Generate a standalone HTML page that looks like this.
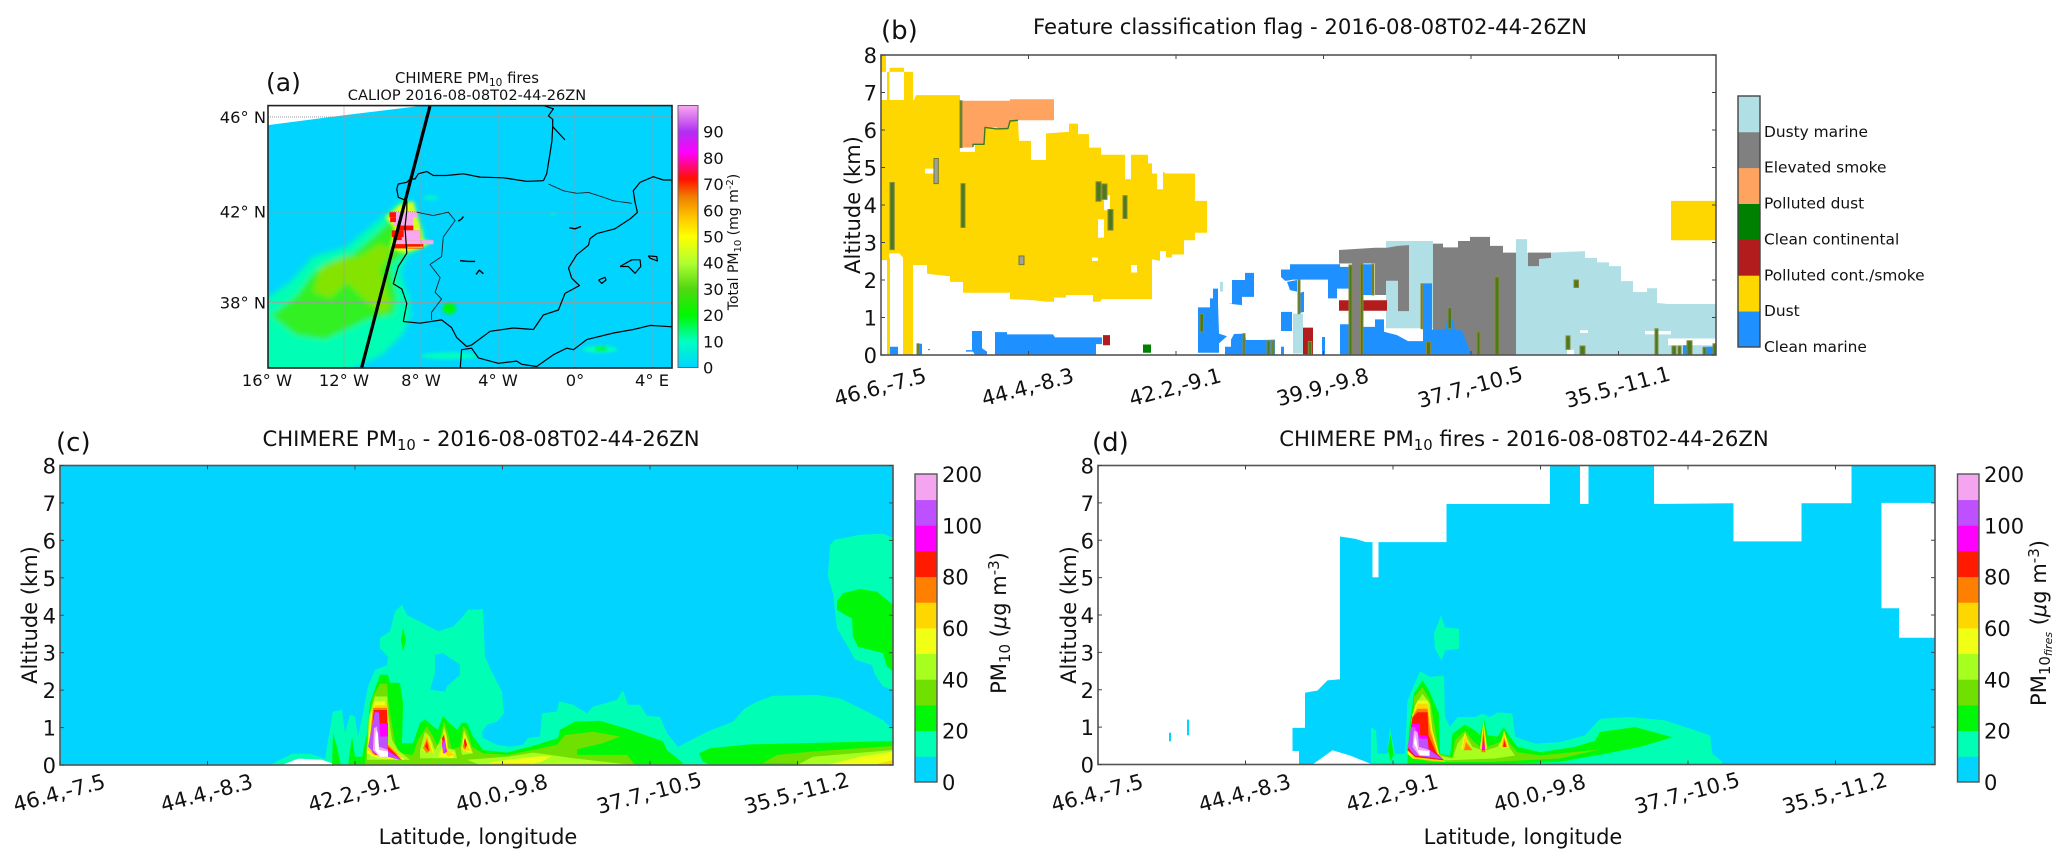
<!DOCTYPE html>
<html lang="en">
<head>
<meta charset="utf-8">
<title>CHIMERE PM10 and CALIOP comparison, 2016-08-08</title>
<style>
html,body{margin:0;padding:0;background:#fff}
svg{display:block}
text{font-family:"DejaVu Sans","Liberation Sans",sans-serif;fill:#111}
</style>
</head>
<body>
<svg id="fig" xmlns="http://www.w3.org/2000/svg" width="2067" height="865" viewBox="0 0 2067 865">
  <defs>
    <clipPath id="clip-map"><rect x="268" y="105.6" width="404" height="262.4"/></clipPath>
    <filter id="soft" x="-20%" y="-20%" width="140%" height="140%"><feGaussianBlur stdDeviation="3"/></filter>
    <filter id="soft2" x="-50%" y="-50%" width="200%" height="200%"><feGaussianBlur stdDeviation="1.6"/></filter>
    <linearGradient id="map-cbar-gradient" x1="0" y1="1" x2="0" y2="0"></linearGradient>
  </defs>
  <g id="panel-a"></g>
  <g id="panel-b"></g>
  <g id="panel-c"></g>
  <g id="panel-d"></g>

  <text x="266" y="91" font-size="25">(a)</text>
  <text x="881" y="39" font-size="26">(b)</text>
  <text x="56" y="451" font-size="26">(c)</text>
  <text x="1092" y="451" font-size="26">(d)</text>

  <text x="467" y="83" font-size="14.8" text-anchor="middle">CHIMERE PM<tspan font-size="10.5" dy="3">10</tspan><tspan dy="-3"> fires</tspan></text>
  <text x="467" y="100" font-size="14.6" text-anchor="middle">CALIOP 2016-08-08T02-44-26ZN</text>
  <text x="1310" y="34" font-size="21.2" text-anchor="middle">Feature classification flag - 2016-08-08T02-44-26ZN</text>
  <text x="481" y="446" font-size="21.2" text-anchor="middle">CHIMERE PM<tspan font-size="14.8" dy="4">10</tspan><tspan dy="-4"> - 2016-08-08T02-44-26ZN</tspan></text>
  <text x="1524" y="446" font-size="21.2" text-anchor="middle">CHIMERE PM<tspan font-size="14.8" dy="4">10</tspan><tspan dy="-4"> fires - 2016-08-08T02-44-26ZN</tspan></text>

  <text transform="translate(860 205) rotate(-90)" font-size="21" text-anchor="middle">Altitude (km)</text>
  <text transform="translate(37 615) rotate(-90)" font-size="21" text-anchor="middle">Altitude (km)</text>
  <text transform="translate(1076 615) rotate(-90)" font-size="21" text-anchor="middle">Altitude (km)</text>
  <text x="478" y="844" font-size="21" text-anchor="middle">Latitude, longitude</text>
  <text x="1523" y="844" font-size="21" text-anchor="middle">Latitude, longitude</text>

  <text transform="translate(738 242) rotate(-90)" font-size="14" text-anchor="middle">Total PM<tspan font-size="10" dy="3">10</tspan><tspan dy="-3"> (mg m</tspan><tspan font-size="10" dy="-5">-2</tspan><tspan dy="5">)</tspan></text>
  <text transform="translate(1006 623) rotate(-90)" font-size="21" text-anchor="middle">PM<tspan font-size="15" dy="4">10</tspan><tspan dy="-4">  (</tspan><tspan font-style="italic">μ</tspan><tspan>g m</tspan><tspan font-size="15" dy="-7">-3</tspan><tspan dy="7">)</tspan></text>
  <text transform="translate(2046 623) rotate(-90)" font-size="21" text-anchor="middle">PM<tspan font-size="15" dy="4">10</tspan><tspan font-size="11" font-style="italic" dy="2">fires</tspan><tspan dy="-6">  (</tspan><tspan font-style="italic">μ</tspan><tspan>g m</tspan><tspan font-size="15" dy="-7">-3</tspan><tspan dy="7">)</tspan></text>
</svg>

<script>
/* ---------- shared chart values ---------- */
const altitudeTicks = [0,1,2,3,4,5,6,7,8];
const trackLabelsB = ['46.6,-7.5','44.4,-8.3','42.2,-9.1','39.9,-9.8','37.7,-10.5','35.5,-11.1'];
const trackLabelsCD = ['46.4,-7.5','44.4,-8.3','42.2,-9.1','40.0,-9.8','37.7,-10.5','35.5,-11.2'];
const trackTickStep = 147.5;

/* ---------- panel (a): map, lon/lat degrees ---------- */
const mapLonTicks = [-16,-12,-8,-4,0,4];
const mapLatTicks = [38,42,46];
const mapColorbarTicks = [0,10,20,30,40,50,60,70,80,90];
const mapColorStops = [[0,'#00d4ff'],[10,'#00ffc0'],[20,'#00f800'],[30,'#50d810'],[40,'#b0ff30'],[50,'#ffff00'],[57,'#ffc800'],[65,'#f08000'],[72,'#ff1000'],[82,'#ff00ff'],[90,'#b030f0'],[100,'#f8a8f0']];
const domainGap = [[-16,46.6],[-16,45.66],[-12,46.07],[-8,46.46],[-8,46.6]];
const northCoast = [[-9.26,42.98],[-9.18,43.19],[-8.74,43.26],[-8.57,43.40],[-8.31,43.40],[-8.14,43.62],[-7.70,43.72],[-7.36,43.55],[-6.67,43.55],[-5.80,43.62],[-4.93,43.48],[-3.72,43.45],[-2.51,43.30],[-1.64,43.33]];
const franceCoast = [[-1.64,43.33],[-1.47,43.62],[-1.30,44.48],[-1.2,45.0],[-1.16,45.6],[-1.16,45.9],[-1.38,46.05],[-1.12,46.34],[-1.73,46.5]];
const gironde = [[-1.16,45.6],[-0.52,45.05]];
const franceMed = [[3.12,42.40],[3.03,42.9],[3.38,43.26],[4.07,43.5],[4.59,43.36],[5.1,43.36]];
const eastCoast = [[3.12,42.4],[3.24,41.97],[2.86,41.69],[2.08,41.26],[1.13,41.05],[0.78,40.83],[0.70,40.54],[0.09,40.12],[-0.34,39.54],[-0.17,39.08],[0.23,38.75],[-0.52,38.4],[-0.86,37.65],[-1.64,37.43],[-2.16,36.76],[-3.2,36.83],[-4.41,36.68],[-5.37,36.05],[-5.63,35.98],[-6.15,36.4],[-6.41,36.85],[-6.93,37.2],[-8.05,37.05],[-8.92,37.13]];
const westCoast = [[-8.92,37.13],[-8.74,37.95],[-9.0,38.6],[-9.44,38.83],[-9.18,39.6],[-8.74,40.19],[-8.83,41.33],[-8.74,42.05],[-8.74,42.47],[-9.18,42.62],[-9.26,42.98]];
const africaCoast = [[-5.97,34.9],[-5.89,35.83],[-5.37,35.9],[-5.02,35.45],[-3.98,35.2],[-3.03,35.3],[-2.77,35.15],[-1.99,35.05],[-1.12,35.6],[-0.43,35.9],[-0.08,35.83],[0.61,36.3],[2.0,36.6],[3.03,36.76],[3.9,36.95],[5.1,36.88]];
const mallorca = [[2.34,39.6],[2.95,39.9],[3.38,39.9],[3.42,39.6],[3.12,39.3],[2.77,39.6],[2.34,39.6]];
const menorca = [[3.81,40.07],[4.25,40.04],[4.28,39.85],[3.9,39.97],[3.81,40.07]];
const ibiza = [[1.22,39.0],[1.56,39.12],[1.61,39.0],[1.39,38.85],[1.22,39.0]];
const reservoirs = [[[-5.97,39.86],[-5.54,39.83],[-5.19,39.83]],[[-5.14,39.25],[-4.97,39.44],[-4.76,39.28]],[[-6.06,41.59],[-5.89,41.69],[-5.8,41.79]],[[-0.29,41.3],[0,41.26],[0.31,41.36]]];
const borderPyrenees = [[-1.38,43.19],[-0.60,42.9],[0.09,42.79],[0.70,42.83],[1.48,42.62],[2.0,42.47],[2.95,42.36]];
const borderPortugal = [[-8.22,41.98],[-7.36,41.83],[-6.58,41.98],[-6.23,41.62],[-6.84,40.9],[-6.93,40.04],[-7.53,39.69],[-7.01,39.11],[-7.27,38.45],[-6.93,38.15],[-7.45,37.55],[-7.45,37.2]];
const caliopTrack = [[-7.53,46.46],[-11.08,35.0]];
const plume10 = [[-16.5,37.9],[-14.8,38.9],[-13.6,40.04],[-11.86,40.47],[-10.65,41.33],[-9.6,42.05],[-8.9,42.6],[-8.4,42.33],[-7.96,41.33],[-7.7,40.6],[-8.74,40.04],[-9.09,39.33],[-8.57,38.04],[-8.57,37.3],[-9,36.5],[-10,35.6],[-12,34.8],[-16.5,34.8]];
const plume20 = [[-15.8,37.4],[-14.46,38.3],[-13.6,39.33],[-12.9,39.76],[-11.5,40.19],[-10.3,41.05],[-9.43,41.76],[-8.74,42.33],[-8.4,41.6],[-8.05,40.47],[-8.9,40.19],[-9.6,39.62],[-9.26,38.2],[-9.43,37.47],[-10.8,37.2],[-12,36.7],[-13,36.3],[-14.5,36.5]];
const plume30 = [[-13.6,38.47],[-13.25,39.47],[-12.2,39.9],[-11.17,40.04],[-10.13,40.6],[-9.43,40.33],[-10.13,39.47],[-9.6,37.9],[-9.95,37.47],[-10.8,38.04],[-11.86,38.9],[-12.7,38.2]];
const fireHalo = [[-9.85,41.75],[-9.1,42.3],[-8.4,42.45],[-8.22,41.9],[-7.96,41.18],[-7.88,40.76],[-7.36,40.7],[-8.05,40.4],[-8.9,40.19],[-9.6,40.4],[-9.43,41.33]];
/* fire stripes: lon start, lon end, lat top, lat bottom, concentration */
const fireStripes = [[-9.64,-8.19,41.98,41.76,100],[-9.64,-9.3,41.98,41.76,72],[-9.6,-8.4,41.76,41.55,100],[-9.6,-9.3,41.76,41.55,72],[-9.44,-8.4,41.55,41.4,100],[-9.26,-8.4,41.4,41.19,72],[-9.52,-8.05,41.19,40.9,72],[-8.9,-8.05,41.19,40.9,100],[-9.44,-8.05,40.9,40.76,72],[-9.0,-8.05,40.9,40.76,100],[-9.44,-7.36,40.76,40.59,100],[-9.44,-7.88,40.59,40.4,72],[-8.7,-7.9,40.48,40.42,57]];
/* small blobs: lon, lat, lon radius, lat radius, concentration */
const mapSpots = [[-6.53,37.72,0.35,0.25,19],[1.3,35.85,0.9,0.15,9],[1.35,35.87,0.35,0.1,19],[-6.5,35.55,1.5,0.15,9],[-7.5,42.6,0.4,0.08,9],[-1.15,41.9,0.15,0.05,9]];

/* ---------- panel (b): along-track sample, altitude km ---------- */
const aerosolClasses = ['Clean marine','Dust','Polluted cont./smoke','Clean continental','Polluted dust','Elevated smoke','Dusty marine'];
const classColors = {lightblue:'#b0e0e6',gray:'#808080',orange:'#ffa460',green:'#008000',red:'#b21c1c',gold:'#ffd700',blue:'#1e90ff'};
const dustRects = [[0,5,7.55,8],[6,8.5,6.8,7.55],[8.5,23,7.55,7.66],[23,32,6.8,7.55],[6,9,0,2.6],[22,32,0,2.6],[790,835,3.06,4.11]];
const dustMass = [[0,6.8],[33,6.8],[35,6.93],[79,6.93],[79,5.42],[94,5.42],[94,5.62],[103,5.62],[104,6.07],[116,6.01],[127,6.04],[129,6.24],[137,6.24],[138,5.71],[150,5.71],[150,5.2],[165,5.2],[165,5.91],[188,5.95],[188,6.17],[197,6.17],[197,5.89],[208,5.89],[208,5.53],[220,5.53],[220,5.34],[244,5.34],[244,4.69],[250,4.69],[250,5.34],[267,5.34],[267,5.11],[271,5.11],[271,4.84],[276,4.84],[276,4.42],[282,4.42],[282,4.89],[285,4.84],[314,4.84],[314,4.11],[326,4.11],[326,3.26],[314,3.26],[314,3.06],[303,3.06],[303,2.68],[291,2.68],[291,2.6],[285,2.6],[285,2.77],[279,2.77],[279,2.51],[271,2.55],[271,1.49],[221,1.49],[219,1.42],[212,1.42],[212,1.6],[185,1.6],[185,1.53],[173,1.53],[173,1.42],[165,1.42],[153,1.46],[129,1.49],[129,1.66],[82,1.66],[82,1.95],[69,1.95],[69,2.1],[57,2.13],[46,2.17],[46,2.4],[32,2.4],[23,2.57],[18.3,2.71],[8.3,2.71],[8,2.53],[0,2.53]];
const pollutedDust = [[79,6.78],[129,6.78],[129,6.82],[173,6.82],[173,6.26],[137,6.26],[129,6.24],[127,6.04],[116,6.01],[116,6.07],[104,6.07],[103,5.62],[92,5.62],[92,5.53],[79,5.53]];
const dustyMarineRight = [[635,0],[635,3.09],[646,3.09],[646,2.73],[670,2.73],[704,2.77],[704,2.59],[716,2.59],[716,2.47],[728,2.47],[728,2.37],[740,2.37],[740,1.97],[752,1.97],[752,1.68],[766,1.68],[766,1.78],[776,1.78],[776,1.39],[787,1.36],[835,1.36],[835,0]];
const dustyMarineRects = [[505,552,0.71,3.04],[412,422,0.04,1.1],[339,342,1.69,1.95],[572,578,0,1.1]];
const smokeShapes = [
  [[458,2.8],[494,2.86],[506,2.86],[517,2.91],[528,2.93],[528,1.17],[517,1.17],[517,1.98],[505,1.98],[505,1.51],[494,1.51],[494,2.44],[458,2.44]],
  [[552,2.97],[562,2.97],[562,2.87],[577,2.87],[577,3.04],[589,3.04],[589,3.15],[609,3.15],[609,2.91],[622,2.91],[622,2.73],[635,2.73],[635,0],[552,0]],
  [[647,2.73],[670,2.73],[670,2.59],[658,2.56],[658,2.37],[647,2.37]]
];
const smokeRects = [[471,482,0,2.44]];
const cleanMarineShapes = [
  [[114,0],[114,0.61],[126,0.61],[126,0.55],[172,0.55],[174,0.47],[221,0.47],[221,0.29],[215,0.29],[215,0]],
  [[85,0.13],[91,0.13],[91,0.64],[101,0.64],[101,0.18],[106,0.09],[106,0],[94,0],[92,0.09],[85,0.09]],
  [[317,0.06],[317,1.27],[329,1.27],[329,1.51],[332,1.51],[332,1.77],[337,1.77],[337,1.37],[338,0.57],[346,0.5],[338,0.31],[338,0.06]],
  [[347,1.37],[351,1.37],[351,2.0],[364,2.0],[364,2.19],[373,2.19],[373,1.55],[361,1.55],[361,1.33]],
  [[344,0],[344,0.22],[350,0.22],[350,0.41],[353,0.56],[364,0.57],[365,0.4],[382,0.4],[394,0.41],[394,0]],
  [[400,2.28],[409,2.28],[409,2.42],[459,2.42],[459,2.35],[469,2.35],[469,1.77],[456,1.77],[456,1.51],[447,1.51],[447,2.01],[412,2.01],[406,1.98],[404,1.98],[400,2.08]],
  [[406,1.95],[416,2.0],[416,1.69],[409,1.73]],
  [[417,1.64],[423,1.69],[423,1.15],[417,1.11]],
  [[482,0.75],[494,0.75],[494,0.95],[503,0.95],[503,0.62],[516,0.53],[527,0.37],[542,0.37],[542,1.91],[551,1.91],[551,0.68],[564,0.68],[566,0.93],[572,0.93],[574,0.66],[581,0.66],[587.5,0.2],[591,0],[482,0]]
];
const cleanMarineRects = [[400,403,0,0.22],[400,411,0.64,1.15],[459,471,0,0.82],[441,444,0,0.48],[482,491,1.6,2.42],[9,17,0,0.22],[47,49,0.13,0.16],[36,41,0,0.3],[802,806,0,0.26],[822,832,0,0.22]];
const pollutedRects = [[458,470,1.18,1.46],[480,506,1.18,1.46],[422,432,0,0.73],[222,229,0.26,0.53]];
const continentalRects = [[262,270,0.06,0.28]];
const noDataGaps = [[44,55,4.84,4.97],[223,229,3.86,4.26],[217,223,3.13,3.62],[211,217,2.51,2.6],[250,256,2.2,2.4],[79,94,5.42,5.53],[456,470,1.46,1.77],[458,470,0.81,1.18],[479,505,1.46,1.6],[479,505,0.77,1.18],[699,707,0.59,0.66],[764,790,0.55,0.64],[787,835,0.26,0.44],[686,693,0,0.14],[506,540,0.4,0.71]];
/* mixed narrow features: sample start, sample end, alt low, alt high */
const mixedBars = [[9,13.3,2.81,4.6],[80,84,3.4,4.57],[215,220,4.1,4.62],[221,226,4.15,4.56],[227,232,3.33,3.88],[242,246,3.64,4.25],[79,81,5.53,6.78],[36,38,0,0.3],[319,322.5,0.62,1.1],[362,364,0,0.57],[386,389,0,0.38],[391,393,0,0.38],[417,419,1.1,2.0],[427.3,430.7,0,0.36],[468,471,0,2.4],[479.5,482,0,2.42],[491,493,1.6,2.42],[545.5,549.5,0,0.35],[540,541.5,0.7,1.9],[567,570.5,0.71,1.26],[596,599,0,0.62],[614,618,0,2.08],[693,697.5,1.8,2.0],[685,689,0.15,0.51],[699,704,0,0.24],[774,777,0,0.7],[791,795,0,0.24],[797,800,0,0.24],[806,811,0,0.38],[822,825,0,0.2],[832,835,0,0.3]];
const grayBars = [[53,57.3,4.57,5.24],[138,143,2.41,2.64]];

/* ---------- panels (c, d): contour levels in sample / km ---------- */
const pmColorbarTicks = [[0,0],[20,2],[40,4],[60,6],[80,8],[100,10],[200,12]];
const pmBandColors = ['#00d4ff','#00ffb4','#00f808','#70e000','#a6ff1e','#f0ff14','#ffd700','#ff8000','#ff1a00','#ff00ff','#bf50ff','#f5a5f0'];

const cLevel10 = [
 [[265,0],[265,0.14],[267,0.49],[273,1.43],[282,1.47],[285,0.85],[290,1.34],[295,1.29],[298,0.76],[303,1.38],[308,2.10],[315,2.54],[327,2.67],[328,2.90],[320,3.12],[320,3.39],[330,3.57],[335,4.10],[342,4.28],[347,4.01],[360,3.83],[378,3.57],[393,3.70],[403,3.97],[408,4.15],[423,4.16],[425,2.90],[430,2.59],[435,2.32],[442,1.96],[444,1.38],[437,1.16],[427,1.07],[422,0.89],[423,0.72],[437,0.54],[450,0.49],[463,0.54],[468,0.72],[480,0.76],[482,1.38],[497,1.43],[499,1.70],[513,1.61],[527,1.38],[533,1.56],[557,1.74],[563,2.0],[568,1.61],[580,1.61],[587,1.31],[600,1.29],[607,0.85],[618,0.49],[647,0.89],[673,1.16],[685,1.52],[697,1.69],[713,1.85],[757,1.87],[780,1.78],[807,1.43],[823,1.20],[833,0.94],[833,0]],
 [[768,5.04],[770,5.88],[775,6.02],[800,6.15],[823,6.18],[833,6.06],[833,2.0],[823,2.1],[815,2.41],[812,2.67],[795,2.81],[788,3.16],[777,3.65],[773,4.59]],
 [[210,0],[232,0.3],[250,0.3],[268,0.14],[268,0]]
];
const cHole = [[375,2.94],[383,2.99],[400,2.68],[400,2.41],[387,2.1],[385,1.96],[370,2.01],[375,2.45]];
const cMound = [[222,0],[238,0.17],[262,0.14],[277,0]];
const cLevel20 = [
 [[272,0],[273,0.85],[277,0.49],[281,0],[288,0],[292,0.76],[295,0.22],[302,0.22],[307,0.85],[310,1.65],[320,2.41],[328,2.41],[330,2.2],[340,2.19],[343,1.65],[342,0.58],[353,0.58],[360,1.12],[365,1.22],[373,1.03],[378,0.94],[383,1.31],[388,1.16],[397,0.94],[402,1.13],[407,1.13],[413,0.76],[423,0.40],[447,0.33],[477,0.54],[498,0.72],[500,0.94],[515,1.16],[540,1.18],[570,0.94],[603,0.63],[607,0.40],[623,0.05],[623,0]],
 [[341,3.34],[343,3.66],[346,3.34],[343,3.03]],
 [[639,0.31],[650,0.45],[690,0.55],[833,0.64],[833,0],[650,0],[643,0.09]],
 [[777,4.37],[783,4.59],[800,4.70],[817,4.63],[833,4.28],[833,2.5],[827,2.63],[823,2.99],[798,3.16],[793,3.43],[792,3.92],[785,4.01],[777,4.15]]
];
const cLevel30 = [
 [[305,0],[308,1.12],[313,1.83],[320,2.17],[327,2.17],[329,1.56],[335,0.58],[340,0.31],[353,0.27],[358,0.67],[367,1.03],[373,0.76],[378,0.49],[382,0.94],[384,1.16],[387,0.94],[392,0.42],[400,0.49],[403,1.03],[407,0.94],[412,0.49],[423,0.31],[447,0.27],[477,0.42],[497,0.54],[505,0.80],[533,0.89],[560,0.76],[543,0.58],[517,0.42],[517,0.27],[567,0.27],[575,0]],
 [[703,0.05],[717,0.27],[753,0.36],[833,0.51],[833,0]]
];
const cLevel40 = [
 [[307,0.14],[309,1.3],[315,1.83],[327,1.83],[328,1.38],[332,0.67],[338,0.40],[350,0.14]],
 [[360,0.40],[365,0.89],[370,0.76],[375,0.40],[382,0.76],[384,1.03],[387,0.76],[388,0.45],[395,0.40],[397,0.18],[360,0.18]],
 [[401,0.45],[404,0.94],[407,0.76],[413,0.31],[402,0.27]],
 [[407,0.14],[447,0.22],[473,0.33],[490,0.27],[513,0.18],[573,0],[420,0]],
 [[737,0],[753,0.22],[833,0.40],[833,0]]
];
const cLevel50 = [
 [[307,0.31],[310,1.25],[315,1.70],[325,1.70],[328,0.54],[340,0.27],[345,0.14],[317,0.18]],
 [[362,0.40],[366,0.76],[370,0.67],[374,0.31]],
 [[382,0.49],[384,0.94],[387,0.67],[387,0.42],[395,0.31],[393,0.18],[378,0.22]],
 [[402,0.40],[404,0.85],[407,0.67],[412,0.31]],
 [[427,0.05],[447,0.14],[473,0.22],[492,0.24],[482,0.09],[467,0]],
 [[767,0],[800,0.22],[833,0.36],[833,0]]
];
const cLevel60 = [
 [[308,0.40],[312,1.16],[315,1.60],[327,1.60],[328,0.58],[338,0.31],[343,0.18],[313,0.27]],
 [[363,0.42],[366,0.85],[370,0.58],[373,0.31]],
 [[382,0.42],[384,0.85],[387,0.42],[395,0.27],[388,0.22]],
 [[402,0.40],[405,0.76],[407,0.54],[411,0.36]],
 [[433,0.05],[473,0.05],[467,0],[433,0]],
 [[813,0],[833,0.13],[833,0]]
];
const cLevel70 = [
 [[309,0.49],[313,1.53],[327,1.53],[328,0.54],[338,0.27],[313,0.31]],
 [[363,0.45],[367,0.72],[370,0.40],[367,0.31]],
 [[382,0.58],[384,0.85],[386,0.40],[383,0.30]],
 [[403,0.49],[405,0.72],[407,0.54],[405,0.40]]
];
const cLevel80 = [
 [[310,0.54],[314,1.47],[327,1.47],[328,0.49],[340,0.18],[315,0.27]],
 [[365,0.49],[367,0.62],[369,0.36]],
 [[382,0.72],[384,0.80],[386,0.49],[384,0.31]],
 [[404,0.63],[405,0.72],[407,0.54],[405,0.45]]
];
const cLevel90 = [
 [[310,0.58],[315,1.43],[319,1.43],[320,1.12],[328,1.12],[328,0.40],[342,0.14],[313,0.31]],
 [[382,0.54],[384,0.72],[387,0.36],[384,0.30]]
];
const cLevel100 = [
 [[308,0.49],[312,1.03],[315,1.43],[319,1.38],[320,0.76],[328,0.76],[328,0.36],[342,0.12],[315,0.31]],
 [[382,0.49],[384,0.67],[386,0.45],[384,0.30]]
];
const cLevel150 = [[[313,0.40],[314,0.98],[317,1.03],[319,0.49],[328,0.40],[328,0.2],[319,0.22]]];
const cPeak = [[315,0.67],[316,0.94],[318,0.85],[319,0.40],[328,0.36],[328,0.22],[320,0.22],[315,0.40]];

const dOuter = [[201,0],[201,0.36],[194.5,0.36],[194.5,0.98],[207,0.98],[207,1.92],[219.5,1.98],[229.5,2.25],[242,2.28],[242,6.1],[257,6.04],[268,5.95],[348.5,5.95],[348.5,6.97],[452,6.97],[452,8],[556,8],[556,6.97],[635.5,6.99],[635.5,5.97],[703.5,5.97],[703.5,6.99],[753.5,6.99],[753.5,8],[837,8],[837,7],[783.5,7],[783.5,4.18],[801,4.18],[801,3.39],[837,3.39],[837,0],[274.5,0],[252,0.24],[234.5,0.38],[214.5,0]];
const dGaps = [[[274.5,5.95],[280.5,5.95],[280.5,5.01],[274.5,5.01]],[[482,8],[490.5,8],[490.5,6.97],[482,6.97]]];
const dIsolated = [[[71,0.62],[73,0.62],[73,0.85],[71,0.85]],[[89,0.78],[91,0.78],[91,1.2],[89,1.2]]];
const dLevel10 = [
 [[336,3.5],[343,3.99],[347,3.67],[361,3.63],[361,3.1],[347,3.05],[343.5,2.78],[337,3.1]],
 [[273,0],[273,1.0],[278,0.91],[279.5,0.29],[289.5,0.29],[292,1.0],[297,0.29],[307,0.29],[309.5,1.71],[322,2.5],[332,2.34],[346,2.38],[347,1.27],[352,1.0],[359.5,1.27],[377,1.27],[384.5,1.36],[392,1.27],[399.5,1.4],[414.5,1.36],[417,0.74],[437,0.56],[462,0.6],[487,0.78],[502,1.22],[532,1.27],[567,1.18],[612,0.78],[614.5,0.29],[624.5,0.07],[624.5,0]]
];
const dLevel20 = [
 [[290,0.38],[292.5,0.82],[295.5,0.29],[293,0.07]],
 [[309.5,0.07],[311,0.91],[316,1.9],[324.5,2.25],[331,1.98],[341,1.36],[342,0.29],[352,0.24],[354.5,0.82],[367,1.07],[377,0.91],[382,0.78],[386,1.23],[389.5,0.78],[399.5,0.74],[405.5,1.0],[412,0.74],[419.5,0.47],[442,0.33],[477,0.47],[497,0.64],[502,0.87],[537,1.0],[574.5,0.73],[542,0.47],[507,0.29],[462,0.07],[382,0],[309.5,0]]
];
const dLevel30 = [[[313,0.2],[316,1.8],[324.5,2.07],[332,1.71],[337,1.0],[341,0.29],[354.5,0.2],[357,0.65],[367,0.91],[374.5,0.65],[382,0.47],[385.5,1.09],[389.5,0.47],[402,0.6],[407,0.82],[412,0.56],[419.5,0.33],[442,0.24],[502,0.4],[462,0.16],[392,0.07],[332,0.07]]];
const dLevel40 = [[[314.5,0.29],[317,1.58],[324.5,1.89],[332,1.63],[334.5,0.91],[341,0.24],[354.5,0.16],[359.5,0.56],[367,0.82],[374.5,0.47],[384.5,0.38],[385.5,1.0],[388,0.38],[399.5,0.47],[406,0.78],[411,0.47],[417,0.24],[397,0.16],[347,0.11]]];
const dLevel50 = [
 [[309.5,0.29],[314.5,1.36],[319.5,1.71],[329.5,1.71],[334.5,0.91],[342,0.2],[347,0.07],[314.5,0.16]],
 [[363,0.42],[367,0.87],[372,0.42]],[[382,0.42],[385.5,1.18],[389,0.42]],[[402,0.47],[406,0.91],[411,0.47]]
];
const dLevel60 = [
 [[311,0.38],[314.5,1.27],[319.5,1.63],[329.5,1.63],[333.5,0.91],[341,0.2],[346,0.07],[316,0.16]],
 [[364.5,0.42],[367,0.78],[373,0.42]],[[383,0.38],[385.5,1.14],[388,0.38]],[[403,0.47],[406,0.82],[410,0.47]]
];
const dLevel70 = [
 [[313,0.47],[316,1.36],[319.5,1.49],[329.5,1.49],[332,0.91],[339.5,0.29],[346,0.11],[317,0.2]],
 [[366,0.38],[368,0.6],[374.5,0.38]],[[383.5,0.33],[385.5,1.0],[387.5,0.33]],[[404.5,0.47],[406,0.73],[409,0.47]]
];
const dLevel80 = [
 [[309.5,0.38],[314.5,1.27],[319.5,1.4],[329.5,1.4],[330.5,0.78],[338,0.33],[346,0.11],[317,0.2]],
 [[384,0.38],[385.5,0.82],[387,0.38]],[[405,0.47],[406.5,0.65],[408,0.47]]
];
const dLevel90 = [
 [[309.5,0.47],[314.5,1.09],[322,1.09],[322,0.78],[329.5,0.78],[330.5,0.42],[344.5,0.16],[317,0.24]],
 [[384,0.42],[385.5,0.73],[387,0.38]]
];
const dLevel100 = [[[309.5,0.47],[313,1.0],[317,1.0],[322,0.69],[329.5,0.69],[330.5,0.4],[344.5,0.14],[317,0.24]]];
const dLevel150 = [[[314.5,0.47],[316,0.91],[319.5,0.87],[321,0.47],[332,0.38],[332,0.22],[321,0.24]]];
const dPeak = [[316,0.56],[317,0.82],[318.5,0.64],[320,0.38],[331,0.36],[331,0.24],[322,0.24]];

/* ---------- drawing helpers ---------- */
const SVGNS = 'http://www.w3.org/2000/svg';
function make(tag, parent, attrs){
  const el = document.createElementNS(SVGNS, tag);
  for (const k in attrs) el.setAttribute(k, attrs[k]);
  parent.appendChild(el);
  return el;
}
function drawPoly(parent, pts, sx, sy, fill, name){
  const el = make('polygon', parent, {points: pts.map(p => sx(p[0]).toFixed(1)+','+sy(p[1]).toFixed(1)).join(' '), fill: fill});
  
  
  return el;
}
function drawBox(parent, r, sx, sy, fill, name){
  const el = make('rect', parent, {x: sx(r[0]), y: sy(r[3]), width: sx(r[1])-sx(r[0]), height: sy(r[2])-sy(r[3]), fill: fill});
  
  
  return el;
}
function drawLine(parent, pts, sx, sy, stroke, width, name){
  const el = make('polyline', parent, {points: pts.map(p => sx(p[0]).toFixed(1)+','+sy(p[1]).toFixed(1)).join(' '), fill: 'none', stroke: stroke, 'stroke-width': width, 'stroke-linejoin': 'round'});
  
  
  return el;
}
function drawText(parent, str, x, y, size, anchor, name, rotate){
  const el = make('text', parent, {x: x, y: y, 'font-size': size, 'text-anchor': anchor});
  if (rotate) el.setAttribute('transform', 'rotate(' + rotate + ' ' + x + ' ' + y + ')');
  el.textContent = str;
  
  
  return el;
}
function bandColor(level){
  return pmBandColors[level];
}

/* curtain-axis frame with ticks and labels */
function curtainAxes(parent, left, right, top, bottom, sx, sy, labels, prefix, labelY, yLabelX){
  const frame = make('rect', parent, {x: left, y: top, width: right-left, height: bottom-top, fill: 'none', stroke: '#555', 'stroke-width': 1.6});
  
  
  labels.forEach((lab, i) => {
    const x = sx(i * trackTickStep);
    [[bottom, bottom-4],[top, top+4]].forEach(t => {
      const tick = make('line', parent, {x1: x, x2: x, y1: t[0], y2: t[1], stroke: '#444', 'stroke-width': 1});
      
      
    });
    drawText(parent, lab, x + 1, labelY, 21, 'middle', prefix + '-x-tick-label', -15);
  });
  altitudeTicks.forEach(a => {
    const y = sy(a);
    [[left, left+4],[right, right-4]].forEach(t => {
      const tick = make('line', parent, {x1: t[0], x2: t[1], y1: y, y2: y, stroke: '#444', 'stroke-width': 1});
      
      
    });
    drawText(parent, String(a), yLabelX, y + 8, 21, 'end', prefix + '-y-tick-label');
  });
}

/* discrete PM colorbar */
function pmColorbar(parent, x0, x1, top, bottom, prefix){
  const h = (bottom - top) / pmBandColors.length;
  const sBand = i => bottom - i * h;
  pmBandColors.forEach((c, i) => {
    const el = make('rect', parent, {x: x0, y: sBand(i+1), width: x1-x0, height: h + 0.4, fill: c});
    
    
  });
  const fr = make('rect', parent, {x: x0, y: top, width: x1-x0, height: bottom-top, fill: 'none', stroke: '#555', 'stroke-width': 1.4});
  
  
  pmColorbarTicks.forEach(t => {
    drawText(parent, String(t[0]), x1 + 5, sBand(t[1]) + 8, 21, 'start', prefix + '-colorbar-label');
  });
}

/* ---------- panel (a) ---------- */
(function(){
  const g = document.getElementById('panel-a');
  const mapLeft = 268, mapRight = 672, mapTop = 105.6, mapBottom = 368;
  const lonX = lon => 575 + 19.25 * lon;
  const latY = lat => { const d = lat - 42; return 211.7 - 23.16 * d - 0.128 * d * d; };
  const lvlColor = v => {
    for (let i = 1; i < mapColorStops.length; i++) if (v <= mapColorStops[i][0]) return mapColorStops[i][1];
    return mapColorStops[mapColorStops.length-1][1];
  };
  const clip = make('g', g, {'clip-path': 'url(#clip-map)'});
  const bg = make('rect', clip, {x: mapLeft, y: mapTop, width: mapRight-mapLeft, height: mapBottom-mapTop, fill: '#00d4ff'});
  
  
  drawPoly(clip, domainGap, lonX, latY, '#ffffff', 'map-domain-gap');

  const blur = make('g', clip, {filter: 'url(#soft)'});
  drawPoly(blur, plume10, lonX, latY, '#00ffb4', 'plume-10');
  drawPoly(blur, plume20, lonX, latY, '#30f020', 'plume-20');
  drawPoly(blur, plume30, lonX, latY, '#84e400', 'plume-30');

  const spotsG = make('g', clip, {filter: 'url(#soft2)'});
  mapSpots.forEach(s => {
    const el = make('ellipse', spotsG, {cx: lonX(s[0]), cy: latY(s[1]), rx: s[2]*19.25, ry: s[3]*23, fill: lvlColor(s[4])});
    
    
  });
  const haloG = make('g', clip, {filter: 'url(#soft2)'});
  drawPoly(haloG, fireHalo, lonX, latY, '#d8ff20', 'fire-halo');
  fireStripes.forEach(r => {
    drawBox(clip, [r[0], r[1], r[3], r[2]], lonX, latY, lvlColor(r[4]), 'fire-stripe');
  });

  mapLonTicks.forEach(l => {
    const x = lonX(l);
    const el = make('line', clip, {x1: x, x2: x, y1: mapTop, y2: mapBottom, stroke: '#9a9a9a', 'stroke-width': 1, 'stroke-dasharray': '1 1'});
    
    
    const lab = Math.abs(l) + (l === 0 ? '°' : l < 0 ? '° W' : '° E');
    drawText(g, lab, x, 386, 16.3, 'middle', 'map-lon-label');
  });
  mapLatTicks.forEach(l => {
    const y = latY(l);
    const el = make('line', clip, {x1: mapLeft, x2: mapRight, y1: y, y2: y, stroke: '#9a9a9a', 'stroke-width': 1, 'stroke-dasharray': '1 1'});
    
    
    drawText(g, l + '° N', 266, y + 6, 16.3, 'end', 'map-lat-label');
  });

  [northCoast, franceCoast, gironde, franceMed, eastCoast, westCoast, africaCoast, mallorca, menorca, ibiza].forEach(c => drawLine(clip, c, lonX, latY, '#000', 1.2, 'coastline'));
  reservoirs.forEach(c => drawLine(clip, c, lonX, latY, '#000', 1.4, 'inland-water'));
  [borderPyrenees, borderPortugal].forEach(c => drawLine(clip, c, lonX, latY, '#222', 0.9, 'country-border'));
  drawLine(clip, caliopTrack, lonX, latY, '#000', 3.2, 'caliop-track');

  const fr = make('rect', g, {x: mapLeft, y: mapTop, width: mapRight-mapLeft, height: mapBottom-mapTop, fill: 'none', stroke: '#222', 'stroke-width': 1.6});
  
  

  /* continuous colorbar */
  const grad = document.getElementById('map-cbar-gradient');
  mapColorStops.forEach(s => {
    const st = make('stop', grad, {offset: s[0] + '%', 'stop-color': s[1]});
  });
  const cbTop = 105.5, cbBottom = 367.5;
  const cbY = v => cbBottom - (cbBottom - cbTop) * v / 100;
  const cb = make('rect', g, {x: 678, y: cbTop, width: 20, height: cbBottom-cbTop, fill: 'url(#map-cbar-gradient)', stroke: '#666', 'stroke-width': 1});
  
  
  mapColorbarTicks.forEach(v => {
    drawText(g, String(v), 703, cbY(v) + 6, 16.3, 'start', 'map-colorbar-label');
  });
})();

/* ---------- panel (b) ---------- */
(function(){
  const g = document.getElementById('panel-b');
  const left = 881, right = 1716, top = 55, bottom = 355;
  const sMax = 835;
  const sx = s => left + s * (right - left) / sMax;
  const sy = a => bottom - a * (bottom - top) / 8;
  const c = classColors;
  dustRects.forEach(r => drawBox(g, r, sx, sy, c.gold, 'dust-region'));
  drawPoly(g, dustMass, sx, sy, c.gold, 'dust-mass');
  drawPoly(g, pollutedDust, sx, sy, c.orange, 'polluted-dust-region');
  drawLine(g, [[92,5.55],[92,5.62],[103,5.62],[104,6.07],[116,6.03],[127,6.04],[129,6.24],[137,6.26]], sx, sy, '#3c7a20', 1.4, 'polluted-dust-edge');
  dustyMarineRects.forEach(r => drawBox(g, r, sx, sy, c.lightblue, 'dusty-marine-region'));
  drawPoly(g, dustyMarineRight, sx, sy, c.lightblue, 'dusty-marine-mass');
  smokeShapes.forEach(p => drawPoly(g, p, sx, sy, c.gray, 'elevated-smoke-region'));
  smokeRects.forEach(r => drawBox(g, r, sx, sy, c.gray, 'elevated-smoke-column'));
  noDataGaps.forEach(r => drawBox(g, r, sx, sy, '#ffffff', 'no-data-gap'));
  cleanMarineShapes.forEach(p => drawPoly(g, p, sx, sy, c.blue, 'clean-marine-region'));
  cleanMarineRects.forEach(r => drawBox(g, r, sx, sy, c.blue, 'clean-marine-column'));
  pollutedRects.forEach(r => drawBox(g, r, sx, sy, c.red, 'polluted-continental-region'));
  continentalRects.forEach(r => drawBox(g, r, sx, sy, c.green, 'clean-continental-region'));
  mixedBars.forEach(r => {
    const el = drawBox(g, r, sx, sy, '#4a7a1c', 'mixed-feature-bar');
    el.setAttribute('stroke', '#8a8a3a');
    el.setAttribute('stroke-width', '1');
  });
  grayBars.forEach(r => {
    const el = drawBox(g, r, sx, sy, '#a0a0a0', 'gray-feature-bar');
    el.setAttribute('stroke', '#6f7a30');
    el.setAttribute('stroke-width', '1');
  });
  curtainAxes(g, left, right, top, bottom, sx, sy, trackLabelsB, 'panel-b', 394, 877);

  /* legend */
  const legendOrder = [c.blue, c.gold, c.red, c.green, c.orange, c.gray, c.lightblue];
  const legLeft = 1738, legRight = 1760, legTop = 96, legBottom = 347;
  const legH = (legBottom - legTop) / aerosolClasses.length;
  aerosolClasses.forEach((name, i) => {
    const y0 = legBottom - (i + 1) * legH;
    const el = make('rect', g, {x: legLeft, y: y0, width: legRight-legLeft, height: legH + 0.4, fill: legendOrder[i]});
    
    
    drawText(g, name, 1764, y0 + legH + 5, 15.4, 'start', 'legend-entry');
  });
  const lf = make('rect', g, {x: legLeft, y: legTop, width: legRight-legLeft, height: legBottom-legTop, fill: 'none', stroke: '#444', 'stroke-width': 1.4});
  
  
})();

/* ---------- panel (c) ---------- */
(function(){
  const g = document.getElementById('panel-c');
  const left = 60, right = 893, top = 465.5, bottom = 765;
  const sMax = 833;
  const sx = s => left + s * (right - left) / sMax;
  const sy = a => bottom - a * (bottom - top) / 8;
  const bg = make('rect', g, {x: left, y: top, width: right-left, height: bottom-top, fill: pmBandColors[0]});
  
  
  cLevel10.forEach(p => drawPoly(g, p, sx, sy, bandColor(1), 'pm10-contour-10'));
  drawPoly(g, cHole, sx, sy, bandColor(0), 'pm10-contour-hole');
  drawPoly(g, cMound, sx, sy, '#ffffff', 'terrain-mound');
  [[cLevel20,2,'20'],[cLevel30,3,'30'],[cLevel40,4,'40'],[cLevel50,5,'50'],[cLevel60,6,'60'],[cLevel70,7,'70'],[cLevel80,8,'80'],[cLevel90,9,'90'],[cLevel100,10,'100'],[cLevel150,11,'150']].forEach(l => {
    l[0].forEach(p => drawPoly(g, p, sx, sy, bandColor(l[1]), 'pm10-contour-' + l[2]));
  });
  drawPoly(g, cPeak, sx, sy, '#ffffff', 'pm10-contour-peak');
  curtainAxes(g, left, right, top, bottom, sx, sy, trackLabelsCD, 'panel-c', 800, 56);
  pmColorbar(g, 915, 937, 474, 782, 'panel-c');
})();

/* ---------- panel (d) ---------- */
(function(){
  const g = document.getElementById('panel-d');
  const left = 1098, right = 1935, top = 465.5, bottom = 764.5;
  const sMax = 837;
  const sx = s => left + s * (right - left) / sMax;
  const sy = a => bottom - a * (bottom - top) / 8;
  drawPoly(g, dOuter, sx, sy, pmBandColors[0], 'pm10-fires-domain');
  dGaps.forEach(p => drawPoly(g, p, sx, sy, '#ffffff', 'pm10-fires-gap'));
  dIsolated.forEach(p => drawPoly(g, p, sx, sy, pmBandColors[0], 'pm10-fires-fragment'));
  [[dLevel10,1,'10'],[dLevel20,2,'20'],[dLevel30,3,'30'],[dLevel40,4,'40'],[dLevel50,5,'50'],[dLevel60,6,'60'],[dLevel70,7,'70'],[dLevel80,8,'80'],[dLevel90,9,'90'],[dLevel100,10,'100'],[dLevel150,11,'150']].forEach(l => {
    l[0].forEach(p => drawPoly(g, p, sx, sy, bandColor(l[1]), 'pm10-fires-contour-' + l[2]));
  });
  drawPoly(g, dPeak, sx, sy, '#ffffff', 'pm10-fires-contour-peak');
  curtainAxes(g, left, right, top, bottom, sx, sy, trackLabelsCD, 'panel-d', 800, 1094);
  pmColorbar(g, 1957.5, 1979, 474, 782, 'panel-d');
})();
</script>
</body>
</html>
